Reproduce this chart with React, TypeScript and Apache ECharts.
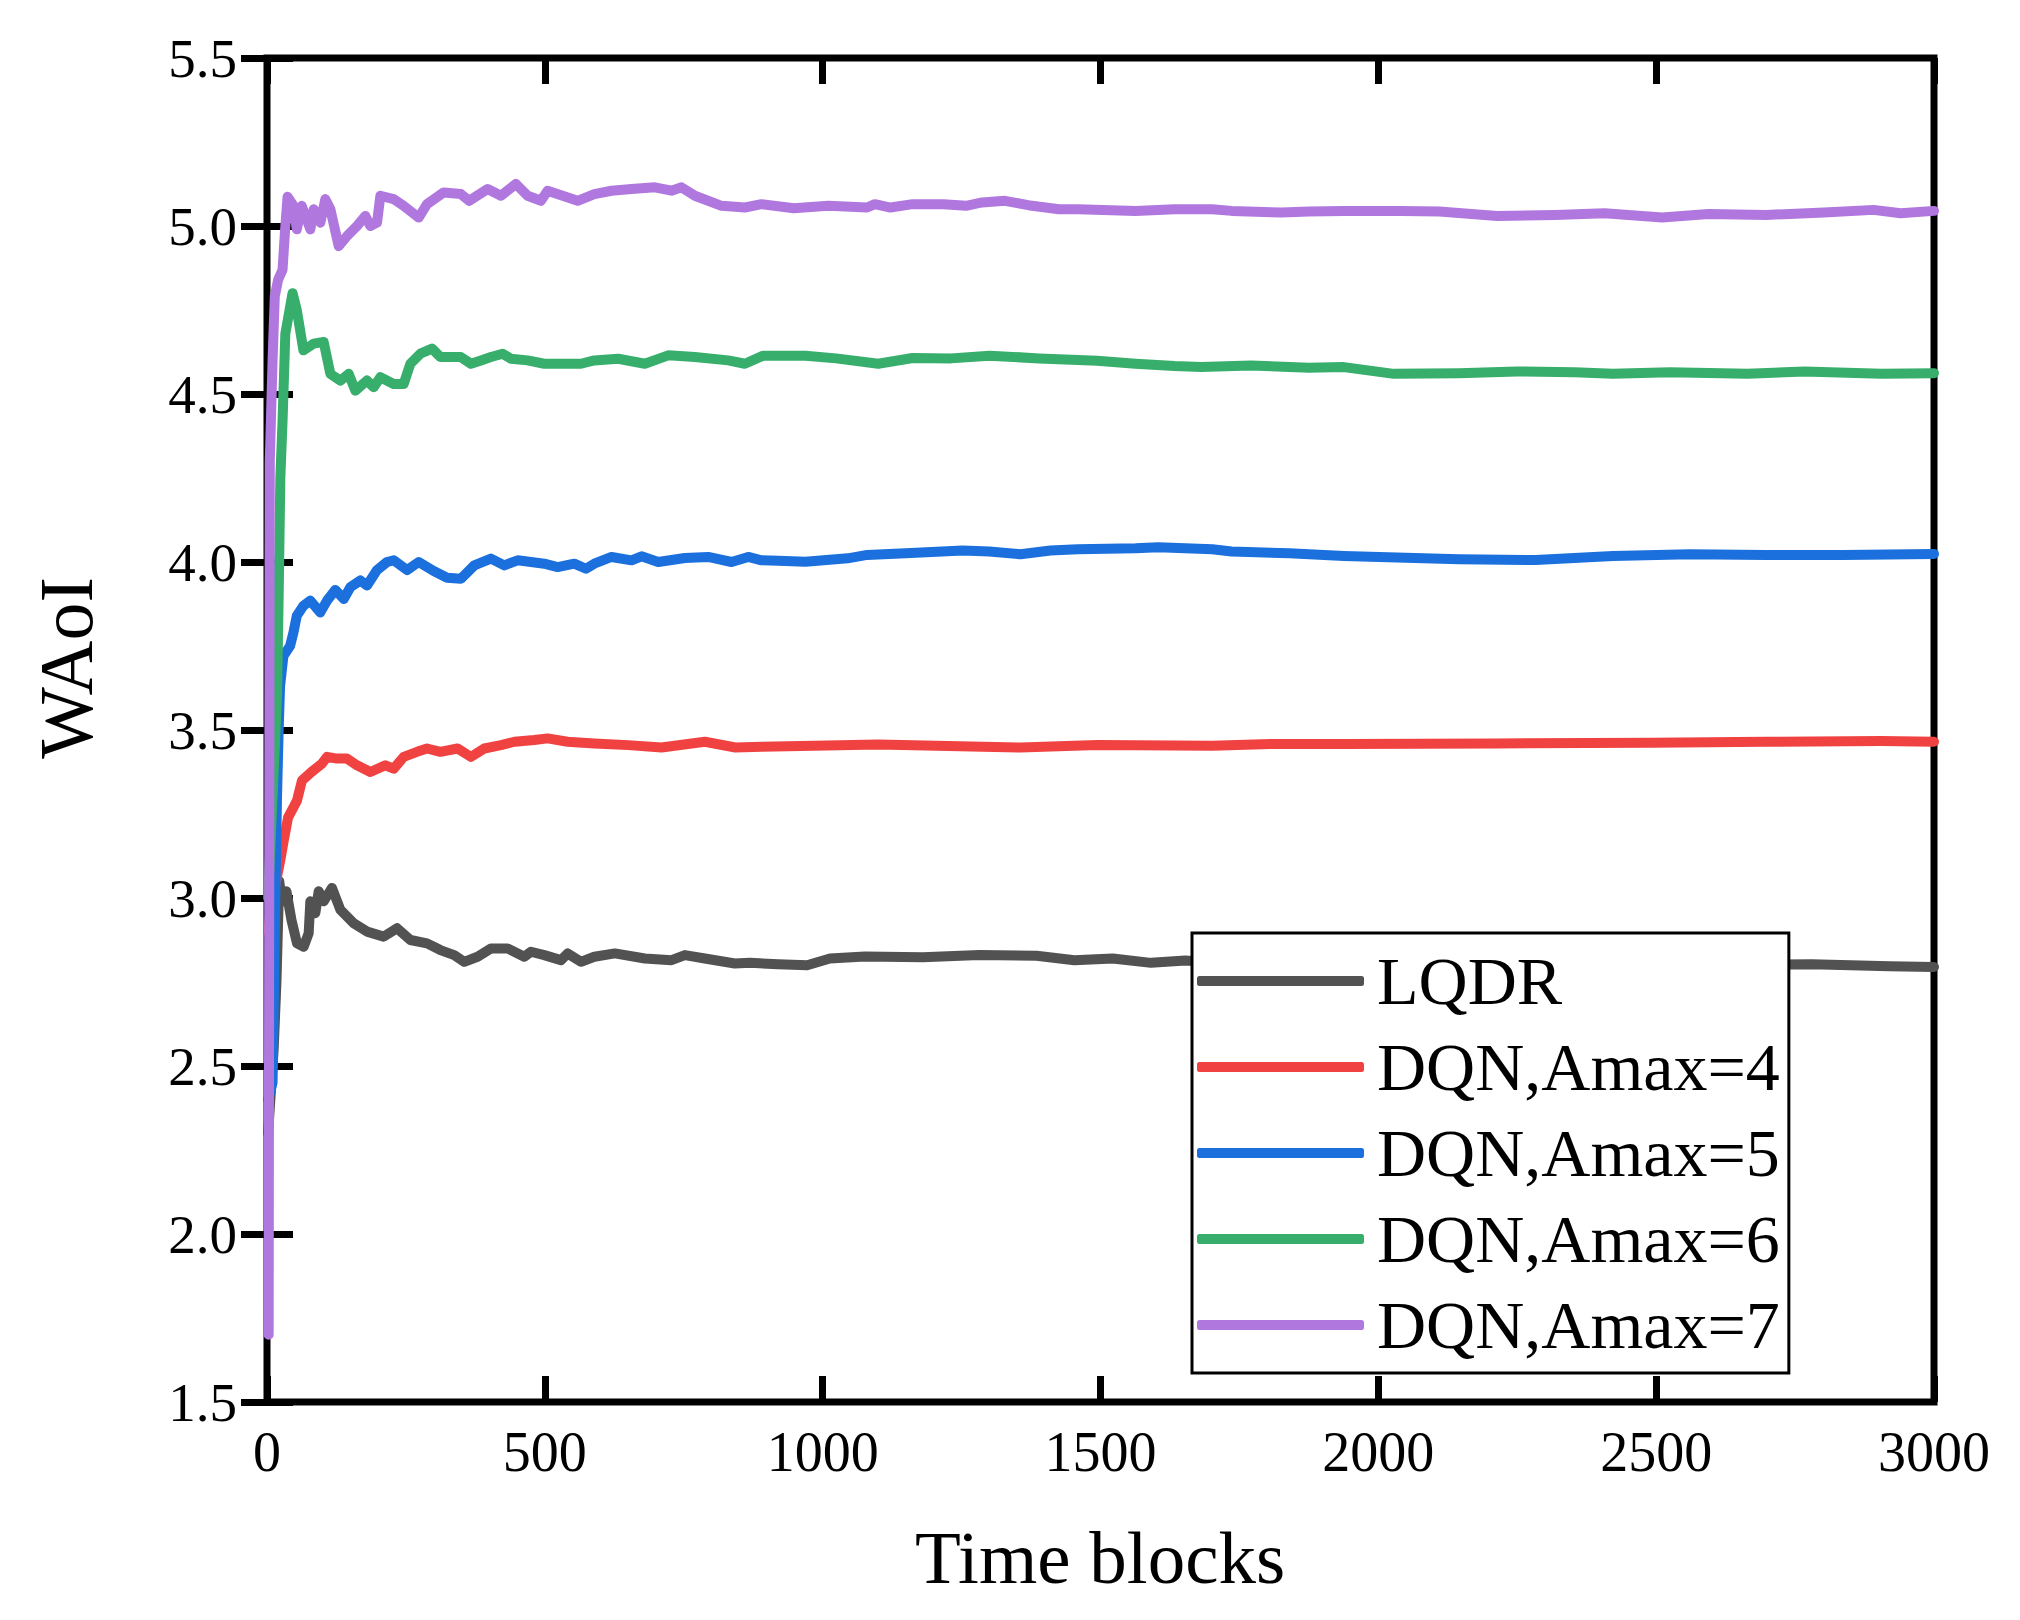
import React, { useEffect, useRef } from "react";
import * as echarts from "echarts";

const FONT = "'Liberation Serif', 'Times New Roman', serif";

const seriesNames = ["LQDR", "DQN,Amax=4", "DQN,Amax=5", "DQN,Amax=6", "DQN,Amax=7"];
const seriesColors = ["#525252", "#f14242", "#1b70dd", "#37ae6b", "#b078de"];

const xTicks = [0, 500, 1000, 1500, 2000, 2500, 3000];
const yTicks = [1.5, 2.0, 2.5, 3.0, 3.5, 4.0, 4.5, 5.0, 5.5];

const lqdr: [number, number][] = [
  [2, 2.3], [8, 2.45], [12, 2.55], [17, 2.75], [22, 3.05], [27, 2.99], [35, 3.02], [44, 2.935],
  [54, 2.865], [66, 2.855], [75, 2.895], [78, 2.99], [87, 2.955], [93, 3.02], [102, 2.99],
  [117, 3.03], [132, 2.965], [156, 2.925], [180, 2.9], [210, 2.885], [234, 2.91], [258, 2.875],
  [288, 2.865], [312, 2.845], [337, 2.83], [355, 2.81], [379, 2.825], [403, 2.85], [433, 2.85],
  [463, 2.825], [475, 2.84], [499, 2.83], [529, 2.815], [541, 2.835], [565, 2.81], [589, 2.825],
  [626, 2.835], [680, 2.82], [728, 2.815], [752, 2.83], [788, 2.82], [842, 2.805], [869, 2.807],
  [920, 2.803], [972, 2.8], [1013, 2.82], [1076, 2.826], [1180, 2.824], [1282, 2.83], [1385, 2.828],
  [1453, 2.815], [1522, 2.82], [1591, 2.807], [1653, 2.814], [1700, 2.808], [1850, 2.805],
  [2000, 2.803], [2200, 2.802], [2400, 2.8], [2600, 2.8], [2780, 2.803], [2850, 2.8],
  [2920, 2.797], [3000, 2.795],
];

const amax4: [number, number][] = [
  [2, 2.9], [10, 3.0], [20, 3.08], [24, 3.113], [30, 3.17], [38, 3.24], [54, 3.29], [63, 3.35],
  [80, 3.375], [99, 3.4], [108, 3.42], [126, 3.415], [144, 3.415], [162, 3.395], [186, 3.375],
  [213, 3.395], [228, 3.385], [246, 3.42], [270, 3.435], [288, 3.445], [312, 3.435], [343, 3.445],
  [367, 3.42], [391, 3.445], [421, 3.455], [445, 3.465], [481, 3.47], [505, 3.475], [541, 3.465],
  [589, 3.46], [650, 3.455], [710, 3.448], [788, 3.465], [843, 3.448], [890, 3.45], [1100, 3.457],
  [1356, 3.448], [1494, 3.455], [1701, 3.453], [1806, 3.458], [1938, 3.458], [2214, 3.46],
  [2491, 3.462], [2698, 3.465], [2905, 3.467], [3000, 3.465],
];

const amax5: [number, number][] = [
  [2, 2.4], [10, 2.45], [14, 2.9], [18, 3.3], [21, 3.5], [23.5, 3.63], [29.5, 3.72], [41.5, 3.75],
  [47.6, 3.79], [53.6, 3.84], [65.6, 3.87], [78, 3.885], [96, 3.85], [108, 3.885], [123, 3.917],
  [138, 3.89], [150, 3.925], [168, 3.945], [180, 3.93], [198, 3.976], [216, 4.0], [228, 4.005],
  [252, 3.976], [273, 4.0], [300, 3.973], [324, 3.953], [349, 3.95], [373, 3.99], [403, 4.01],
  [427, 3.99], [451, 4.005], [499, 3.995], [523, 3.985], [553, 3.995], [574, 3.98], [589, 3.995],
  [620, 4.015], [656, 4.005], [674, 4.017], [704, 4.0], [752, 4.012], [794, 4.015], [836, 4.0],
  [866, 4.015], [890, 4.005], [920, 4.004], [969, 4.001], [1045, 4.011], [1080, 4.021],
  [1149, 4.026], [1252, 4.034], [1300, 4.031], [1356, 4.023], [1410, 4.034], [1459, 4.038],
  [1563, 4.041], [1604, 4.044], [1701, 4.038], [1736, 4.031], [1840, 4.026], [1938, 4.018],
  [2145, 4.008], [2283, 4.006], [2422, 4.018], [2560, 4.023], [2698, 4.021], [2836, 4.021],
  [3000, 4.024],
];

const amax6: [number, number][] = [
  [2, 3.0], [10, 3.3], [18, 3.6], [21, 3.9], [24, 4.25], [28, 4.42], [33, 4.68], [46, 4.8],
  [53.6, 4.75], [65.6, 4.63], [84, 4.65], [102, 4.655], [114, 4.56], [132, 4.54], [147, 4.56],
  [159, 4.51], [180, 4.54], [192, 4.52], [204, 4.55], [228, 4.53], [246, 4.53], [258, 4.59],
  [276, 4.62], [297, 4.635], [312, 4.61], [349, 4.61], [367, 4.59], [385, 4.6], [403, 4.61],
  [424, 4.62], [439, 4.605], [469, 4.6], [499, 4.59], [529, 4.59], [565, 4.59], [589, 4.6],
  [632, 4.605], [680, 4.59], [722, 4.615], [770, 4.61], [830, 4.6], [860, 4.59], [893, 4.614],
  [969, 4.614], [1024, 4.606], [1100, 4.59], [1162, 4.607], [1231, 4.606], [1300, 4.614],
  [1390, 4.606], [1494, 4.599], [1563, 4.59], [1633, 4.583], [1681, 4.58], [1771, 4.585],
  [1875, 4.578], [1938, 4.58], [2028, 4.56], [2145, 4.562], [2249, 4.567], [2353, 4.565],
  [2422, 4.56], [2525, 4.565], [2664, 4.56], [2767, 4.567], [2905, 4.56], [3000, 4.562],
];

const amax7: [number, number][] = [
  [3, 1.7], [4, 3.0], [5, 4.3], [10, 4.6], [14, 4.79], [20, 4.84], [28, 4.87], [33, 5.0],
  [37, 5.087], [47.6, 5.06], [53.6, 4.99], [62.6, 5.06], [78, 4.99], [84, 5.05], [96, 5.01],
  [105, 5.08], [114, 5.05], [129, 4.94], [144, 4.97], [162, 5.0], [177, 5.03], [186, 5.0],
  [198, 5.01], [204, 5.09], [228, 5.08], [246, 5.06], [273, 5.025], [288, 5.065], [318, 5.1],
  [349, 5.095], [364, 5.075], [397, 5.11], [421, 5.09], [448, 5.125], [469, 5.09], [493, 5.075],
  [505, 5.105], [559, 5.075], [589, 5.095], [620, 5.105], [656, 5.11], [698, 5.115], [728, 5.105],
  [746, 5.115], [770, 5.09], [818, 5.06], [860, 5.055], [890, 5.065], [948, 5.053], [1010, 5.06],
  [1080, 5.055], [1094, 5.065], [1122, 5.055], [1162, 5.065], [1217, 5.065], [1258, 5.06],
  [1287, 5.07], [1328, 5.075], [1370, 5.062], [1425, 5.05], [1460, 5.05], [1563, 5.045],
  [1633, 5.05], [1701, 5.05], [1736, 5.045], [1826, 5.04], [1875, 5.043], [1938, 5.045],
  [2041, 5.045], [2110, 5.043], [2214, 5.03], [2318, 5.033], [2407, 5.038], [2511, 5.025],
  [2594, 5.036], [2698, 5.033], [2802, 5.04], [2891, 5.048], [2940, 5.038], [3000, 5.045],
];

const seriesData = [lqdr, amax4, amax5, amax6, amax7];

export default function App() {
  const ref = useRef<HTMLDivElement>(null);

  useEffect(() => {
    document.body.style.margin = "0";
    if (!ref.current) return;
    const chart = echarts.init(ref.current, null, { renderer: "svg" });

    const xMin = xTicks[0];
    const xMax = xTicks[xTicks.length - 1];
    const xInt = xTicks[1] - xTicks[0];
    const yMin = yTicks[0];
    const yMax = yTicks[yTicks.length - 1];
    const yInt = yTicks[1] - yTicks[0];

    const tick = { show: true, inside: true, length: 26, lineStyle: { color: "#000", width: 7 } };

    chart.setOption({
      animation: false,
      backgroundColor: "#ffffff",
      grid: {
        left: 267,
        right: 86,
        top: 58,
        bottom: 218,
        show: true,
        borderColor: "#000",
        borderWidth: 7,
        backgroundColor: "transparent",
      },
      xAxis: [
        {
          type: "value",
          min: xMin,
          max: xMax,
          interval: xInt,
          position: "bottom",
          axisLine: { show: false },
          axisTick: tick,
          splitLine: { show: false },
          axisLabel: {
            show: true,
            color: "#000",
            fontFamily: FONT,
            fontSize: 56,
            margin: 22,
            formatter: (v: number) => String(v),
          },
        },
        {
          type: "value",
          min: xMin,
          max: xMax,
          interval: xInt,
          position: "top",
          axisLine: { show: false },
          axisTick: tick,
          splitLine: { show: false },
          axisLabel: { show: false },
        },
      ],
      yAxis: [
        {
          type: "value",
          min: yMin,
          max: yMax,
          interval: yInt,
          position: "left",
          axisLine: { show: false },
          axisTick: tick,
          splitLine: { show: false },
          axisLabel: {
            show: true,
            color: "#000",
            fontFamily: FONT,
            fontSize: 55,
            margin: 30,
            formatter: (v: number) => v.toFixed(1),
          },
        },
        {
          type: "value",
          min: yMin,
          max: yMax,
          interval: yInt,
          position: "right",
          axisLine: { show: false },
          axisTick: tick,
          splitLine: { show: false },
          axisLabel: { show: false },
        },
      ],
      legend: {
        show: true,
        orient: "vertical",
        left: 1192,
        top: 933,
        backgroundColor: "#ffffff",
        borderColor: "#000",
        borderWidth: 3,
        padding: [14, 9, 14, 5],
        itemGap: 18,
        itemWidth: 167,
        itemHeight: 10,
        icon: "roundRect",
        textStyle: {
          color: "#000",
          fontFamily: FONT,
          fontSize: 68,
          lineHeight: 68,
          padding: [0, 0, 0, 8],
        },
        data: seriesNames,
      },
      graphic: [
        {
          type: "text",
          x: 1100,
          y: 1557,
          style: {
            text: "Time blocks",
            fontFamily: FONT,
            fontSize: 75,
            fill: "#000",
            align: "center",
            verticalAlign: "middle",
          },
        },
        {
          type: "text",
          x: 66,
          y: 668,
          rotation: Math.PI / 2,
          style: {
            text: "WAoI",
            fontFamily: FONT,
            fontSize: 76,
            fill: "#000",
            align: "center",
            verticalAlign: "middle",
          },
        },
      ],
      series: seriesNames.map((name, i) => ({
        name,
        type: "line",
        xAxisIndex: 0,
        yAxisIndex: 0,
        data: seriesData[i],
        showSymbol: false,
        symbol: "none",
        color: seriesColors[i],
        lineStyle: { color: seriesColors[i], width: 10, join: "round", cap: "round" },
        itemStyle: { color: seriesColors[i] },
        z: 2 + i,
      })),
    });

    return () => chart.dispose();
  }, []);

  return <div ref={ref} style={{ width: 2020, height: 1620 }} />;
}
